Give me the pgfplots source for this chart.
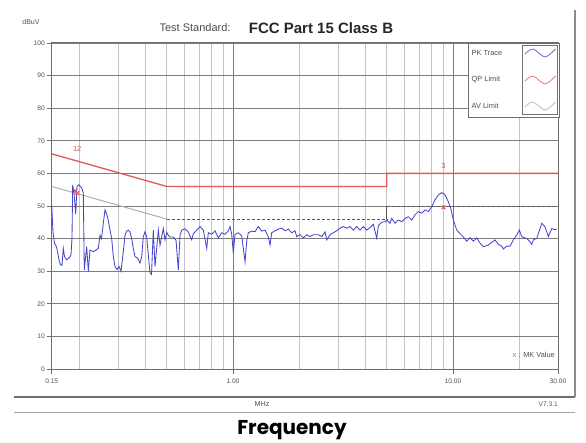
\documentclass[border=0pt]{standalone}
\usepackage{fontspec}
\setmainfont{Liberation Sans}
\newfontfamily\freqfont{Poppins}
\usepackage{pgfplots}
\pgfplotsset{compat=1.18}

\definecolor{pk}{RGB}{70,70,205}
\definecolor{qp}{RGB}{222,90,90}
\definecolor{avl}{RGB}{175,175,175}
\definecolor{gridc}{RGB}{125,125,125}
\definecolor{mgrid}{RGB}{195,195,195}
\definecolor{txt}{RGB}{80,80,80}
\definecolor{frame}{RGB}{110,110,110}

\begin{document}
\begin{tikzpicture}
\useasboundingbox (0pt,0pt) rectangle (586pt,442pt);
\begin{axis}[
    at={(51.7pt,73pt)}, anchor=south west,
    width=506.3pt, height=326pt, scale only axis,
    xmode=log, xmin=0.15, xmax=30, ymin=0, ymax=100,
    xtick={0.15,1,10,30}, xticklabels={0.15,1.00,10.00,30.00},
    minor xtick={0.2,0.3,0.4,0.5,0.6,0.7,0.8,0.9,2,3,4,5,6,7,8,9,20},
    ytick={0,10,...,100},
    xtick pos=bottom, ytick pos=left,
    tick align=outside, major tick length=4.5pt, minor tick length=0pt,
    tick style={draw=frame, line width=0.9pt},
    xmajorgrids, xminorgrids, ymajorgrids,
    major grid style={draw=gridc, line width=0.75pt},
    minor grid style={draw=mgrid, line width=0.7pt},
    axis line style={draw=frame, line width=1pt},
    /pgf/number format/assume math mode=true,
    ticklabel style={font=\fontsize{6.6}{8}\selectfont, text=txt},
    xticklabel style={yshift=-2pt},
    yticklabel style={xshift=1pt},
    clip=false,
]
% AV limit
\addplot[avl, line width=1pt] coordinates {(0.15,56) (0.5,46)};
\addplot[black!65, line width=0.9pt, dash pattern=on 3pt off 2pt] coordinates {(0.5,46) (5,46)};
\addplot[black!65, line width=0.9pt] coordinates {(5,46) (5,50)};
\addplot[black!65, line width=0.9pt, dash pattern=on 3pt off 2pt] coordinates {(5,50) (30,50)};
% QP limit
\addplot[qp, line width=1.3pt] coordinates {(0.15,66) (0.5,56) (5,56) (5,60) (30,60)};
% PK trace
\addplot[pk, line width=0.85pt] coordinates {
(0.15000,50.3) (0.15206,42.0) (0.15446,38.5) (0.15773,37.5) (0.15939,36.0)
(0.16191,33.5) (0.16447,32.0) (0.16707,31.8) (0.16936,37.0) (0.17150,34.5)
(0.17513,33.5) (0.17978,34.0) (0.18358,35.0) (0.18551,40.0) (0.18687,56.5)
(0.18943,54.0) (0.19283,47.5) (0.19548,56.0) (0.19961,56.5) (0.20533,55.5)
(0.20880,54.0) (0.21099,30.4) (0.21636,37.5) (0.22002,30.0) (0.22397,36.5)
(0.23184,36.0) (0.23848,36.5) (0.24429,37.0) (0.24867,41.0) (0.25261,40.0)
(0.25741,44.7) (0.26204,48.8) (0.26674,47.5) (0.27125,45.5) (0.27612,42.6)
(0.28107,40.0) (0.28582,34.5) (0.29095,31.4) (0.29711,30.5) (0.30339,31.5)
(0.30981,30.0) (0.31736,36.0) (0.32305,41.0) (0.32885,42.3) (0.33441,42.6)
(0.34041,42.0) (0.34652,40.0) (0.35237,37.0) (0.35870,34.5) (0.36898,34.0)
(0.37797,32.5) (0.38475,34.5) (0.39125,40.5) (0.39828,42.1) (0.40543,40.5)
(0.41227,35.0) (0.41967,29.5) (0.42631,29.0) (0.43442,42.6) (0.44222,31.4)
(0.45776,42.6) (0.46598,38.0) (0.48236,43.1) (0.49102,39.6) (0.49983,41.9)
(0.50827,41.0) (0.51740,40.5) (0.53558,40.5) (0.55093,39.5) (0.56435,30.4)
(0.57449,41.0) (0.58480,42.6) (0.60535,43.0) (0.62662,42.0) (0.64931,39.6)
(0.66028,41.5) (0.68420,42.6) (0.70825,43.7) (0.73314,42.6) (0.75970,37.0)
(0.77252,41.8) (0.80051,41.3) (0.82864,42.4) (0.85776,40.2) (0.88883,41.8)
(0.92007,41.3) (0.95240,42.4) (0.96950,43.7) (0.98690,41.3) (1.00357,35.5)
(1.02159,41.3) (1.05749,41.8) (1.09580,40.8) (1.13431,32.9) (1.15467,39.3)
(1.17416,41.8) (1.21670,42.3) (1.25946,42.1) (1.30371,43.7) (1.35094,42.3)
(1.39842,42.6) (1.44756,40.5) (1.47355,38.0) (1.50000,41.8) (1.55271,42.4)
(1.60728,42.9) (1.66553,43.2) (1.72406,42.4) (1.78464,42.9) (1.84928,41.8)
(1.91427,42.4) (1.94865,40.6) (2.01713,41.2) (2.08800,40.2) (2.16368,41.2)
(2.23970,40.6) (2.31840,41.2) (2.44280,41.2) (2.53142,40.6) (2.62035,42.1)
(2.66742,39.6) (2.76116,41.2) (2.85819,41.8) (2.96174,42.4) (3.06582,43.2)
(3.17355,43.7) (3.28854,43.2) (3.40410,43.7) (3.52372,42.6) (3.65139,43.7)
(3.77970,42.6) (3.91252,43.7) (4.05429,42.6) (4.19676,43.4) (4.34424,44.4)
(4.50165,40.1) (4.57769,44.0) (4.74342,45.0) (4.91012,45.2) (4.99833,45.7)
(5.17398,44.7) (5.26679,46.2) (5.45187,44.7) (5.64347,45.7) (5.84796,45.2)
(6.05348,46.2) (6.26621,46.7) (6.49314,45.7) (6.72132,47.3) (6.95753,48.3)
(7.20957,47.8) (7.46295,48.8) (7.72521,48.3) (8.00505,49.8) (8.28638,51.9)
(8.57759,53.4) (8.88831,54.1) (9.20067,53.4) (9.52401,51.3) (9.76632,49.3)
(10.0357,45.7) (10.3994,42.6) (10.7648,41.5) (11.1430,40.5) (11.5467,39.2)
(11.9525,40.3) (12.3725,39.2) (12.8207,40.2) (13.2712,38.6) (13.7375,37.5)
(14.4300,38.0) (15.2532,39.2) (15.5271,39.6) (16.0728,38.2) (16.6553,37.7)
(16.9368,36.8) (17.5496,37.7) (18.1670,37.7) (18.8055,39.6) (19.4865,41.1)
(20.0291,42.6) (20.5331,40.6) (21.6368,40.0) (22.3970,39.0) (22.7987,38.2)
(23.1840,39.6) (24.0240,40.1) (24.8678,43.1) (25.3142,44.7) (26.2035,43.6)
(27.1241,40.6) (28.1073,43.1) (28.7916,42.8) (29.6174,42.9)
};
% markers
\addplot[only marks, mark=x, qp, mark size=2.4pt, line width=1.2pt]
  coordinates {(0.192,54.6) (0.196,54.0) (9.05,49.6)};
\node[text=qp, font=\fontsize{7.5}{9}\selectfont] at (axis cs:0.196,67.6) {12};
\node[text=qp, font=\fontsize{7.5}{9}\selectfont] at (axis cs:9.05,62.4) {3};
\end{axis}

\begin{scope}[x=1pt,y=1pt]
% legend
\fill[white] (468,325) rectangle (559,399);
\draw[frame, line width=0.8pt] (468,325) rectangle (559,399);
\draw[black!55, line width=0.9pt] (522,327.5) rectangle (557,396.5);
\foreach \yy/\lab/\col in {389/PK Trace/pk, 362/QP Limit/qp, 336/AV Limit/avl}{
  \node[anchor=west, inner sep=0pt, text=txt, font=\fontsize{7.4}{8}\selectfont] at (471.5,\yy) {\lab};
  \draw[\col!80, line width=0.8pt] plot[smooth] coordinates {(525,\yy-1) (533,\yy+4) (545,\yy-4) (555.5,\yy+4)};
}

% marker note
\node[anchor=east, inner sep=0pt, font=\fontsize{7.4}{8}\selectfont, text=txt] at (555,87) {{\color{qp}x} : MK Value};

% titles and labels
\node[text=txt, font=\fontsize{7}{8}\selectfont] at (31,420) {dBuV};
\node[text=black!70, font=\fontsize{11}{13}\selectfont] at (195,414) {Test Standard:};
\node[text=black!85, font=\fontsize{15}{17}\selectfont\bfseries] at (321,414) {FCC Part 15 Class B};

% lower frame
\draw[frame, line width=1.6pt] (14,45) -- (575,45);
\draw[black!35, line width=0.6pt] (14,30) -- (575,30);
\draw[black!45, line width=1.4pt] (575,432) -- (575,45);
\node[text=txt, font=\fontsize{7.2}{8}\selectfont] at (262,38) {MHz};
\node[anchor=east, inner sep=0pt, text=txt, font=\fontsize{6.6}{8}\selectfont] at (558,38) {V7.3.1};

\node[font=\freqfont\fontsize{20}{22}\selectfont\bfseries] at (292,12) {Frequency};
\end{scope}
\end{tikzpicture}
\end{document}
